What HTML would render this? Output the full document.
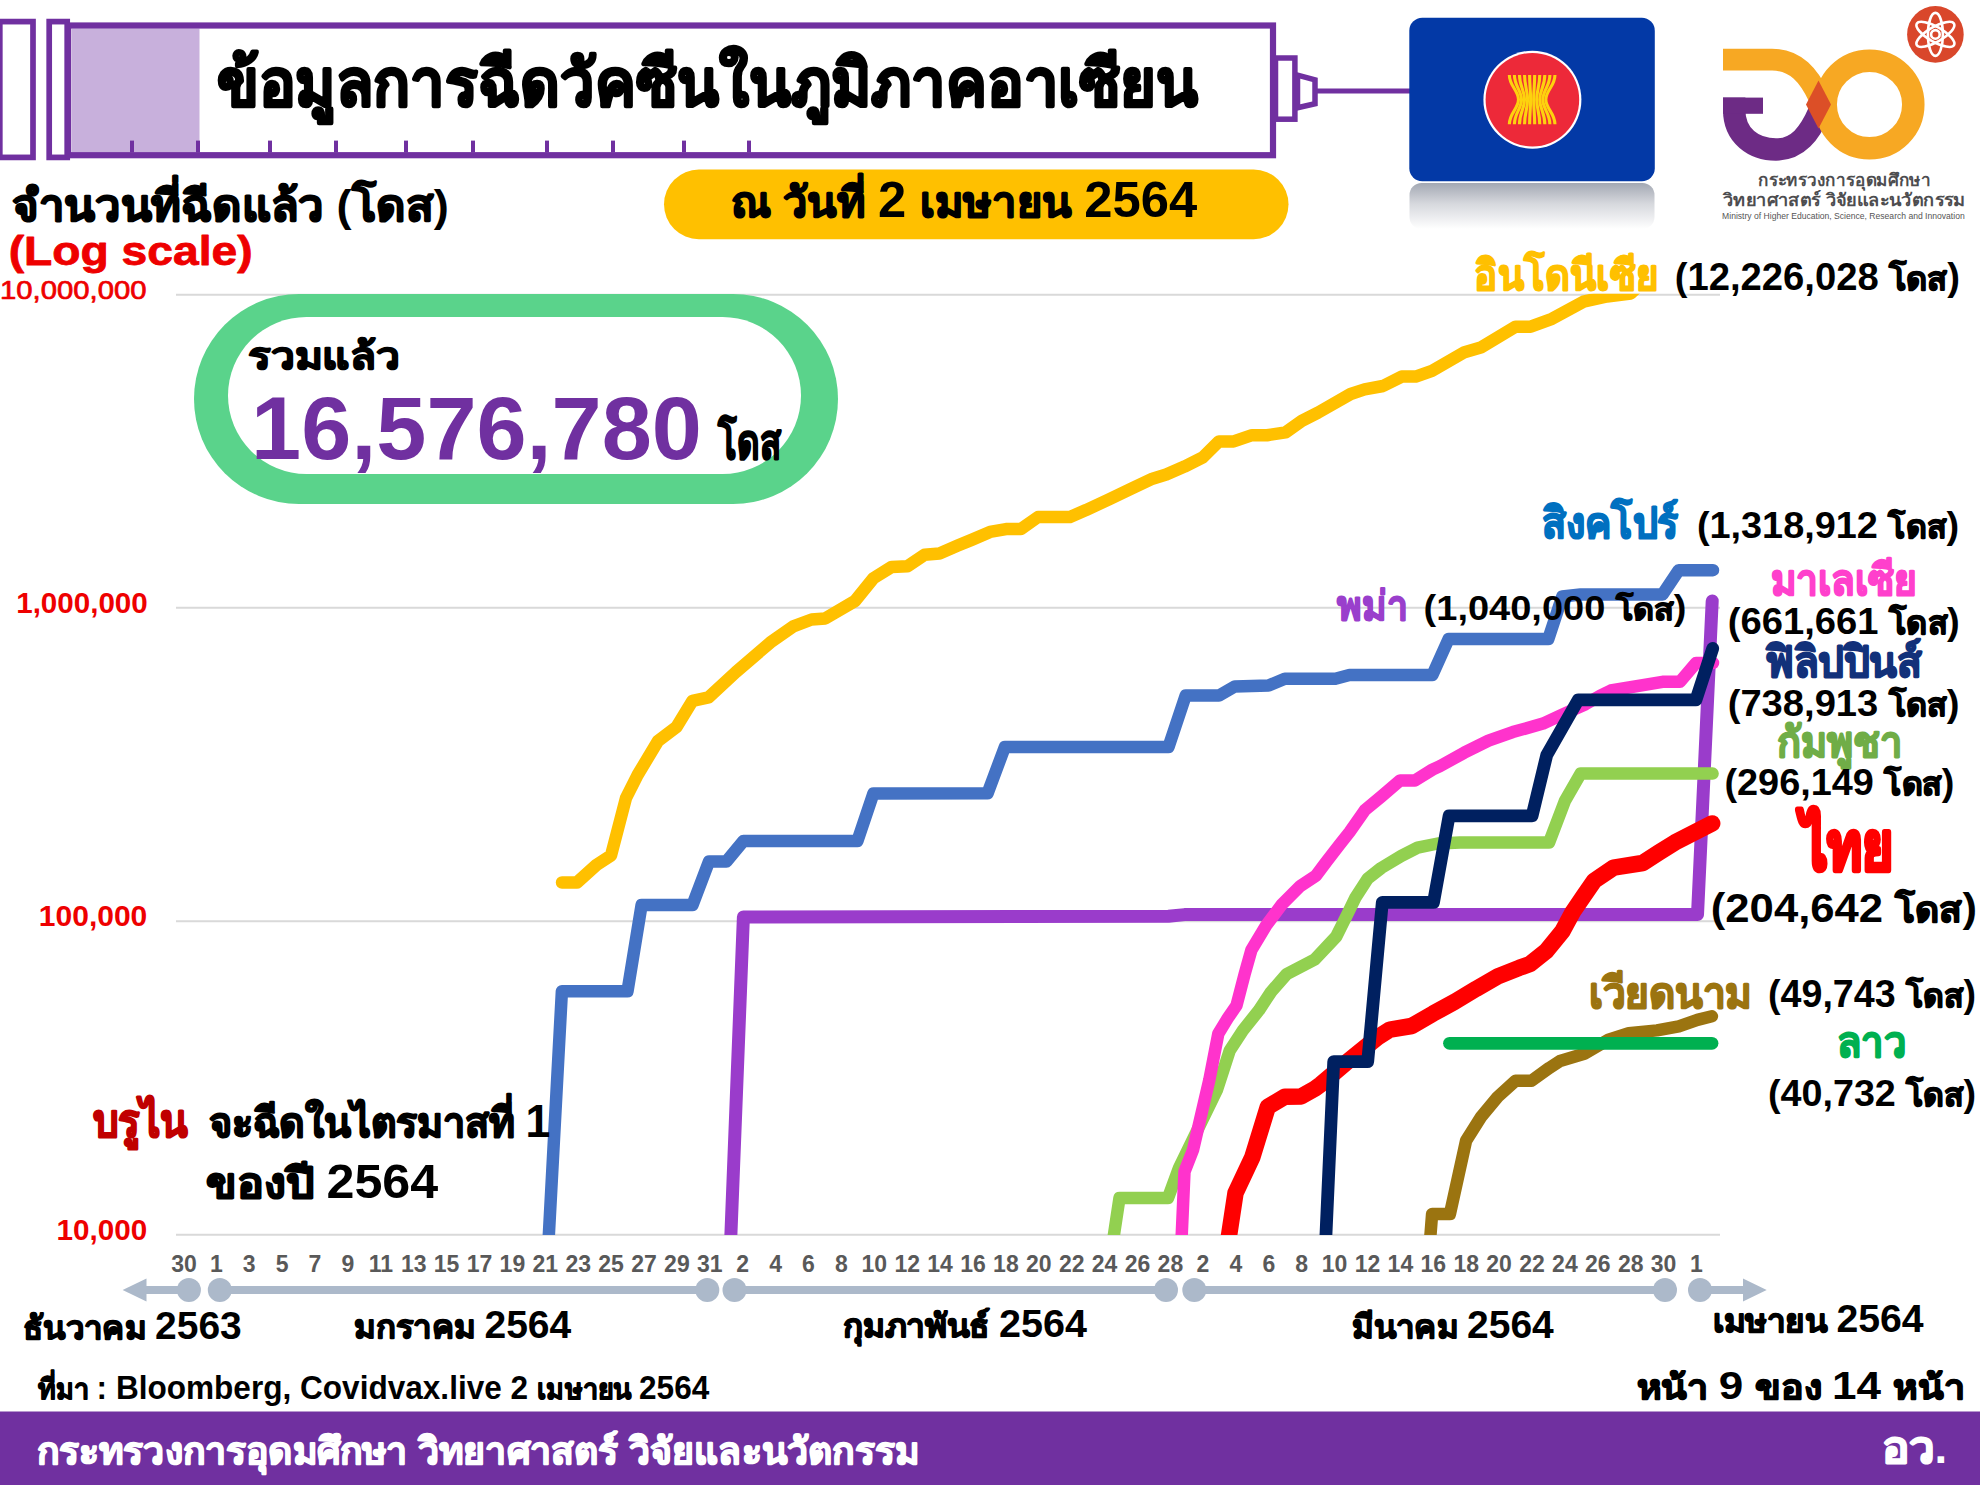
<!DOCTYPE html>
<html><head><meta charset='utf-8'><title>ASEAN vaccination</title>
<style>html,body{margin:0;padding:0;background:#fff;} svg{display:block;font-family:"Liberation Sans", sans-serif;}</style>
</head><body>
<svg width='1980' height='1485' viewBox='0 0 1980 1485'>
<rect width='1980' height='1485' fill='#fff'/>
<defs><clipPath id='plot'><rect x='170' y='293.8' width='1600' height='941.2'/></clipPath></defs>

<rect x='-0.2' y='21.6' width='33.2' height='135.8' fill='none' stroke='#7030a0' stroke-width='5.7'/>
<rect x='49.2' y='21.6' width='18' height='135.8' fill='none' stroke='#7030a0' stroke-width='5.7'/>
<rect x='72' y='28.5' width='127.5' height='124' fill='#c8b0dc'/>
<rect x='68.2' y='25.5' width='1204.8' height='129.7' fill='none' stroke='#7030a0' stroke-width='6.2'/>
<rect x='1275.5' y='58' width='19.4' height='61.2' fill='none' stroke='#7030a0' stroke-width='5.5'/>
<polygon points='1297.5,75.2 1315,79.8 1315,103.8 1297.5,107.8' fill='none' stroke='#7030a0' stroke-width='5.5'/>
<line x1='1317' y1='91' x2='1412' y2='91' stroke='#7030a0' stroke-width='5.2'/>
<line x1='132' y1='140.6' x2='132' y2='152.5' stroke='#7030a0' stroke-width='4'/><line x1='198' y1='140.6' x2='198' y2='152.5' stroke='#7030a0' stroke-width='4'/><line x1='270' y1='140.6' x2='270' y2='152.5' stroke='#7030a0' stroke-width='4'/><line x1='336' y1='140.6' x2='336' y2='152.5' stroke='#7030a0' stroke-width='4'/><line x1='406' y1='140.6' x2='406' y2='152.5' stroke='#7030a0' stroke-width='4'/><line x1='473' y1='140.6' x2='473' y2='152.5' stroke='#7030a0' stroke-width='4'/><line x1='547' y1='140.6' x2='547' y2='152.5' stroke='#7030a0' stroke-width='4'/><line x1='613' y1='140.6' x2='613' y2='152.5' stroke='#7030a0' stroke-width='4'/><line x1='684' y1='140.6' x2='684' y2='152.5' stroke='#7030a0' stroke-width='4'/><line x1='749' y1='140.6' x2='749' y2='152.5' stroke='#7030a0' stroke-width='4'/>
<rect x='664' y='169.5' width='624.5' height='69.7' rx='34.85' fill='#ffc000'/>

<defs>
<linearGradient id='refl' x1='0' y1='0' x2='0' y2='1'>
<stop offset='0' stop-color='#a3a8b3'/><stop offset='0.45' stop-color='#d6d8dd'/><stop offset='1' stop-color='#ffffff'/>
</linearGradient>
</defs>
<rect x='1409.5' y='183' width='245' height='46' rx='12' fill='url(#refl)'/>
<rect x='1409.3' y='17.7' width='245.5' height='163.5' rx='13' fill='#0339a6'/>
<circle cx='1532.4' cy='99.7' r='49' fill='#ffffff'/>
<circle cx='1532.4' cy='99.7' r='46.8' fill='#ed2939'/>
<path d='M1509.35,74.9 C1509.35,85.9 1518.47,90.6 1518.47,99.6 C1518.47,108.6 1509.35,113.2 1509.35,124.2' fill='none' stroke='#fdd20e' stroke-width='3.1'/><path d='M1514.42,74.9 C1514.42,85.9 1521.51,90.6 1521.51,99.6 C1521.51,108.6 1514.42,113.2 1514.42,124.2' fill='none' stroke='#fdd20e' stroke-width='3.1'/><path d='M1519.48,74.9 C1519.48,85.9 1524.55,90.6 1524.55,99.6 C1524.55,108.6 1519.48,113.2 1519.48,124.2' fill='none' stroke='#fdd20e' stroke-width='3.1'/><path d='M1524.55,74.9 C1524.55,85.9 1527.59,90.6 1527.59,99.6 C1527.59,108.6 1524.55,113.2 1524.55,124.2' fill='none' stroke='#fdd20e' stroke-width='3.1'/><path d='M1529.62,74.9 C1529.62,85.9 1530.63,90.6 1530.63,99.6 C1530.63,108.6 1529.62,113.2 1529.62,124.2' fill='none' stroke='#fdd20e' stroke-width='3.1'/><path d='M1534.68,74.9 C1534.68,85.9 1533.67,90.6 1533.67,99.6 C1533.67,108.6 1534.68,113.2 1534.68,124.2' fill='none' stroke='#fdd20e' stroke-width='3.1'/><path d='M1539.75,74.9 C1539.75,85.9 1536.71,90.6 1536.71,99.6 C1536.71,108.6 1539.75,113.2 1539.75,124.2' fill='none' stroke='#fdd20e' stroke-width='3.1'/><path d='M1544.82,74.9 C1544.82,85.9 1539.75,90.6 1539.75,99.6 C1539.75,108.6 1544.82,113.2 1544.82,124.2' fill='none' stroke='#fdd20e' stroke-width='3.1'/><path d='M1549.88,74.9 C1549.88,85.9 1542.79,90.6 1542.79,99.6 C1542.79,108.6 1549.88,113.2 1549.88,124.2' fill='none' stroke='#fdd20e' stroke-width='3.1'/><path d='M1554.95,74.9 C1554.95,85.9 1545.83,90.6 1545.83,99.6 C1545.83,108.6 1554.95,113.2 1554.95,124.2' fill='none' stroke='#fdd20e' stroke-width='3.1'/>


<circle cx='1935.4' cy='34.4' r='28.3' fill='#d9472b'/>
<g fill='none' stroke='#fff' stroke-width='2.6'>
<ellipse cx='1935.4' cy='34.4' rx='7.5' ry='21.5' />
<ellipse cx='1935.4' cy='34.4' rx='7.5' ry='21.5' transform='rotate(60 1935.4 34.4)'/>
<ellipse cx='1935.4' cy='34.4' rx='7.5' ry='21.5' transform='rotate(-60 1935.4 34.4)'/>
<circle cx='1935.4' cy='34.4' r='4.3'/>
</g>
<path d='M1723,59.6 H1772 C1796,59.6 1809,76 1819,97' fill='none' stroke='#f7a823' stroke-width='21.8'/>
<path d='M1734.2,97.6 V110 C1734.2,136 1754,149.5 1776,149.5 C1798,149.5 1810,133 1819,112' fill='none' stroke='#6d2b85' stroke-width='22.4'/>
<rect x='1723' y='97.6' width='40' height='16.2' fill='#6d2b85'/>
<circle cx='1869.5' cy='104.5' r='43.8' fill='none' stroke='#f7a823' stroke-width='22.5'/>
<path d='M1806,104.5 L1818.5,80.5 L1831,104.5 L1818.5,128.5 Z' fill='#dc4f27'/>

<line x1='176' y1='294.8' x2='1720' y2='294.8' stroke='#d9d9d9' stroke-width='2'/>
<line x1='176' y1='607.8' x2='1720' y2='607.8' stroke='#d9d9d9' stroke-width='2'/>
<line x1='176' y1='921.3' x2='1720' y2='921.3' stroke='#d9d9d9' stroke-width='2'/>
<line x1='176' y1='1234.8' x2='1720' y2='1234.8' stroke='#d9d9d9' stroke-width='2'/>

<rect x='194' y='294' width='644' height='210' rx='105' fill='#5ad38b'/>
<rect x='228' y='317' width='573' height='157' rx='78.5' fill='#ffffff'/>

<g clip-path='url(#plot)'>
<polyline points='562,882.5 577,882.5 596.4,865 611,855.5 626,798 637.6,775 658,741 676.5,727 692.5,700.8 708.6,697.4 736,672 770.4,642.4 793.3,626.4 811.6,619.5 825.3,618.4 855,601 873.4,578.3 891.7,566.9 907.5,566.2 924.6,554.8 939.5,553.6 957.8,545.6 971.6,539.9 990,531.9 1006,529.1 1020.8,529.1 1038,517 1070,517 1086,510.1 1109,499.3 1131.9,488.4 1152.5,478.7 1166.2,474.6 1184.5,466.6 1202.8,457.4 1218.9,441.4 1233.7,441.4 1252,435.2 1267,435.2 1285.6,432.4 1301.8,420.8 1318,412.6 1350.6,394 1364.6,389.4 1383,386 1401.7,376.6 1415.7,376.6 1432,370.8 1464.5,352.2 1480.7,347.6 1515.6,326.7 1530.7,326.7 1552,318.8 1583.4,301.7 1607,296.5 1630.7,293.5 1645,280' fill='none' stroke='#ffc000' stroke-width='12.5' stroke-linejoin='round' stroke-linecap='round'/>
<polyline points='548.3,1245 561.9,991.2 627.5,991.2 641.6,905 692.5,905 709,861.5 726.4,861.5 743.4,841 857.4,841 873.4,793.5 987.6,793.3 1004.8,747.1 1168.5,747.1 1185.7,695.6 1218.9,695.6 1234.9,686.4 1268.6,685.5 1284.8,678.7 1335.4,678.7 1349.4,675 1432.4,675 1448.6,639 1548.3,639 1562.3,596.5 1580.6,594.5 1662.5,594.5 1678.7,570.2 1713,570.2' fill='none' stroke='#4472c4' stroke-width='12.5' stroke-linejoin='round' stroke-linecap='round'/>
<polyline points='730.5,1245 743.4,917 1168.5,916.3 1184.5,914.6 1697.5,914.6 1712.2,601' fill='none' stroke='#9a3ccb' stroke-width='13' stroke-linejoin='round' stroke-linecap='round'/>
<polyline points='1112.4,1245 1119.5,1198 1168,1198 1179,1168 1216.9,1090 1224.3,1067.4 1229.7,1050.6 1242.9,1030.4 1259,1010.2 1271,992 1286.4,974.3 1314.7,959.5 1336.2,936.6 1347,915 1355.6,897.3 1367.7,878.7 1381.2,868 1401.4,855.8 1417.6,847.7 1437.8,843.5 1460,842.4 1549.1,842.4 1564.8,801.2 1580.6,773.6 1712.6,773.6' fill='none' stroke='#92d050' stroke-width='12.5' stroke-linejoin='round' stroke-linecap='round'/>
<polyline points='1181.3,1245 1184.5,1171.6 1193,1150 1209.3,1080 1218.3,1033.8 1227.7,1018.3 1236.5,1005.5 1244.6,974.3 1251.4,950 1266.1,925.6 1282.2,904.1 1300.4,885.9 1315.9,875.8 1326,862.3 1339.5,844.8 1349.6,832 1365,810 1381.2,796.6 1400,780.5 1414.9,780.5 1432.4,769.6 1440,766.1 1464.2,752.7 1488.5,740.6 1512.7,732.1 1543,723.6 1561.2,715.2 1585.5,704.2 1600,695.8 1610.8,690.5 1662.5,681.8 1680,681.8 1696,663 1713,663' fill='none' stroke='#ff33cc' stroke-width='12.5' stroke-linejoin='round' stroke-linecap='round'/>
<polyline points='1429.7,1245 1432.1,1214.1 1449.9,1214.1 1466.1,1140.6 1481.4,1116.4 1497.6,1097 1515.4,1080.8 1531.5,1080.8 1549.3,1067.9 1560,1061.1 1584.2,1053.8 1608.5,1039.7 1628.7,1033.2 1657,1030.4 1678.8,1026.4 1697.4,1019.9 1711.9,1016.3' fill='none' stroke='#9b7410' stroke-width='12.5' stroke-linejoin='round' stroke-linecap='round'/>
<polyline points='1449.5,1043.3 1712,1043.3' fill='none' stroke='#00b050' stroke-width='12.8' stroke-linejoin='round' stroke-linecap='round'/>
<polyline points='1227.6,1245 1235.5,1193.1 1252.2,1157.6 1267.8,1106.9 1285,1096.7 1301.2,1096.4 1315,1088.6 1320.8,1084.3 1345,1063.7 1377.4,1037.5 1390,1029.6 1411.6,1026 1433.1,1013.6 1454.7,1001.8 1476.2,988.8 1497.8,976.4 1519.3,967.8 1530,964 1546.3,951 1562.4,931.2 1573.2,911.3 1584,895.5 1594.2,880.8 1613.6,867.6 1642.7,863 1658.9,852.5 1675,842.4 1712.2,823.4' fill='none' stroke='#ff0000' stroke-width='16.5' stroke-linejoin='round' stroke-linecap='round'/>
<polyline points='1325.5,1245 1333.7,1061.7 1367.7,1061.7 1382.3,902.4 1433.5,902.4 1449.1,815.8 1532.1,815.8 1546.7,755.2 1578.2,699.8 1696,699.8 1712.7,648.4' fill='none' stroke='#002060' stroke-width='12.8' stroke-linejoin='round' stroke-linecap='round'/>
</g>
<line x1='146' y1='1290' x2='189' y2='1290' stroke='#acb9ca' stroke-width='8'/>
<line x1='219.8' y1='1290' x2='707.3' y2='1290' stroke='#acb9ca' stroke-width='8'/>
<line x1='734.5' y1='1290' x2='1166' y2='1290' stroke='#acb9ca' stroke-width='8'/>
<line x1='1194.3' y1='1290' x2='1665' y2='1290' stroke='#acb9ca' stroke-width='8'/>
<line x1='1700' y1='1290' x2='1744' y2='1290' stroke='#acb9ca' stroke-width='8'/>
<circle cx='188.9' cy='1290' r='12' fill='#acb9ca'/>
<circle cx='219.8' cy='1290' r='12' fill='#acb9ca'/>
<circle cx='707.3' cy='1290' r='12' fill='#acb9ca'/>
<circle cx='734.5' cy='1290' r='12' fill='#acb9ca'/>
<circle cx='1166' cy='1290' r='12' fill='#acb9ca'/>
<circle cx='1194.3' cy='1290' r='12' fill='#acb9ca'/>
<circle cx='1665' cy='1290' r='12' fill='#acb9ca'/>
<circle cx='1700' cy='1290' r='12' fill='#acb9ca'/>
<polygon points='122.6,1290 146.5,1278.4 146.5,1301.6' fill='#acb9ca'/>
<polygon points='1766.7,1290 1743,1278.4 1743,1301.6' fill='#acb9ca'/>
<text x='184.0' y='1272.3' text-anchor='middle' font-family='Liberation Sans, sans-serif' font-size='23' font-weight='bold' fill='#595959'>30</text>
<text x='216.3' y='1272.3' text-anchor='middle' font-family='Liberation Sans, sans-serif' font-size='23' font-weight='bold' fill='#595959'>1</text>
<text x='249.2' y='1272.3' text-anchor='middle' font-family='Liberation Sans, sans-serif' font-size='23' font-weight='bold' fill='#595959'>3</text>
<text x='282.1' y='1272.3' text-anchor='middle' font-family='Liberation Sans, sans-serif' font-size='23' font-weight='bold' fill='#595959'>5</text>
<text x='315.0' y='1272.3' text-anchor='middle' font-family='Liberation Sans, sans-serif' font-size='23' font-weight='bold' fill='#595959'>7</text>
<text x='347.9' y='1272.3' text-anchor='middle' font-family='Liberation Sans, sans-serif' font-size='23' font-weight='bold' fill='#595959'>9</text>
<text x='380.8' y='1272.3' text-anchor='middle' font-family='Liberation Sans, sans-serif' font-size='23' font-weight='bold' fill='#595959'>11</text>
<text x='413.7' y='1272.3' text-anchor='middle' font-family='Liberation Sans, sans-serif' font-size='23' font-weight='bold' fill='#595959'>13</text>
<text x='446.6' y='1272.3' text-anchor='middle' font-family='Liberation Sans, sans-serif' font-size='23' font-weight='bold' fill='#595959'>15</text>
<text x='479.5' y='1272.3' text-anchor='middle' font-family='Liberation Sans, sans-serif' font-size='23' font-weight='bold' fill='#595959'>17</text>
<text x='512.4' y='1272.3' text-anchor='middle' font-family='Liberation Sans, sans-serif' font-size='23' font-weight='bold' fill='#595959'>19</text>
<text x='545.3' y='1272.3' text-anchor='middle' font-family='Liberation Sans, sans-serif' font-size='23' font-weight='bold' fill='#595959'>21</text>
<text x='578.2' y='1272.3' text-anchor='middle' font-family='Liberation Sans, sans-serif' font-size='23' font-weight='bold' fill='#595959'>23</text>
<text x='611.1' y='1272.3' text-anchor='middle' font-family='Liberation Sans, sans-serif' font-size='23' font-weight='bold' fill='#595959'>25</text>
<text x='644.0' y='1272.3' text-anchor='middle' font-family='Liberation Sans, sans-serif' font-size='23' font-weight='bold' fill='#595959'>27</text>
<text x='676.9' y='1272.3' text-anchor='middle' font-family='Liberation Sans, sans-serif' font-size='23' font-weight='bold' fill='#595959'>29</text>
<text x='709.8' y='1272.3' text-anchor='middle' font-family='Liberation Sans, sans-serif' font-size='23' font-weight='bold' fill='#595959'>31</text>
<text x='742.7' y='1272.3' text-anchor='middle' font-family='Liberation Sans, sans-serif' font-size='23' font-weight='bold' fill='#595959'>2</text>
<text x='775.6' y='1272.3' text-anchor='middle' font-family='Liberation Sans, sans-serif' font-size='23' font-weight='bold' fill='#595959'>4</text>
<text x='808.5' y='1272.3' text-anchor='middle' font-family='Liberation Sans, sans-serif' font-size='23' font-weight='bold' fill='#595959'>6</text>
<text x='841.4' y='1272.3' text-anchor='middle' font-family='Liberation Sans, sans-serif' font-size='23' font-weight='bold' fill='#595959'>8</text>
<text x='874.3' y='1272.3' text-anchor='middle' font-family='Liberation Sans, sans-serif' font-size='23' font-weight='bold' fill='#595959'>10</text>
<text x='907.2' y='1272.3' text-anchor='middle' font-family='Liberation Sans, sans-serif' font-size='23' font-weight='bold' fill='#595959'>12</text>
<text x='940.1' y='1272.3' text-anchor='middle' font-family='Liberation Sans, sans-serif' font-size='23' font-weight='bold' fill='#595959'>14</text>
<text x='973.0' y='1272.3' text-anchor='middle' font-family='Liberation Sans, sans-serif' font-size='23' font-weight='bold' fill='#595959'>16</text>
<text x='1005.9' y='1272.3' text-anchor='middle' font-family='Liberation Sans, sans-serif' font-size='23' font-weight='bold' fill='#595959'>18</text>
<text x='1038.8' y='1272.3' text-anchor='middle' font-family='Liberation Sans, sans-serif' font-size='23' font-weight='bold' fill='#595959'>20</text>
<text x='1071.7' y='1272.3' text-anchor='middle' font-family='Liberation Sans, sans-serif' font-size='23' font-weight='bold' fill='#595959'>22</text>
<text x='1104.6' y='1272.3' text-anchor='middle' font-family='Liberation Sans, sans-serif' font-size='23' font-weight='bold' fill='#595959'>24</text>
<text x='1137.5' y='1272.3' text-anchor='middle' font-family='Liberation Sans, sans-serif' font-size='23' font-weight='bold' fill='#595959'>26</text>
<text x='1170.4' y='1272.3' text-anchor='middle' font-family='Liberation Sans, sans-serif' font-size='23' font-weight='bold' fill='#595959'>28</text>
<text x='1203.0' y='1272.3' text-anchor='middle' font-family='Liberation Sans, sans-serif' font-size='23' font-weight='bold' fill='#595959'>2</text>
<text x='1235.9' y='1272.3' text-anchor='middle' font-family='Liberation Sans, sans-serif' font-size='23' font-weight='bold' fill='#595959'>4</text>
<text x='1268.8' y='1272.3' text-anchor='middle' font-family='Liberation Sans, sans-serif' font-size='23' font-weight='bold' fill='#595959'>6</text>
<text x='1301.7' y='1272.3' text-anchor='middle' font-family='Liberation Sans, sans-serif' font-size='23' font-weight='bold' fill='#595959'>8</text>
<text x='1334.6' y='1272.3' text-anchor='middle' font-family='Liberation Sans, sans-serif' font-size='23' font-weight='bold' fill='#595959'>10</text>
<text x='1367.5' y='1272.3' text-anchor='middle' font-family='Liberation Sans, sans-serif' font-size='23' font-weight='bold' fill='#595959'>12</text>
<text x='1400.4' y='1272.3' text-anchor='middle' font-family='Liberation Sans, sans-serif' font-size='23' font-weight='bold' fill='#595959'>14</text>
<text x='1433.3' y='1272.3' text-anchor='middle' font-family='Liberation Sans, sans-serif' font-size='23' font-weight='bold' fill='#595959'>16</text>
<text x='1466.2' y='1272.3' text-anchor='middle' font-family='Liberation Sans, sans-serif' font-size='23' font-weight='bold' fill='#595959'>18</text>
<text x='1499.1' y='1272.3' text-anchor='middle' font-family='Liberation Sans, sans-serif' font-size='23' font-weight='bold' fill='#595959'>20</text>
<text x='1532.0' y='1272.3' text-anchor='middle' font-family='Liberation Sans, sans-serif' font-size='23' font-weight='bold' fill='#595959'>22</text>
<text x='1564.9' y='1272.3' text-anchor='middle' font-family='Liberation Sans, sans-serif' font-size='23' font-weight='bold' fill='#595959'>24</text>
<text x='1597.8' y='1272.3' text-anchor='middle' font-family='Liberation Sans, sans-serif' font-size='23' font-weight='bold' fill='#595959'>26</text>
<text x='1630.7' y='1272.3' text-anchor='middle' font-family='Liberation Sans, sans-serif' font-size='23' font-weight='bold' fill='#595959'>28</text>
<text x='1663.6' y='1272.3' text-anchor='middle' font-family='Liberation Sans, sans-serif' font-size='23' font-weight='bold' fill='#595959'>30</text>
<text x='1696.3' y='1272.3' text-anchor='middle' font-family='Liberation Sans, sans-serif' font-size='23' font-weight='bold' fill='#595959'>1</text>
<rect x='0' y='1411.5' width='1980' height='74' fill='#7030a0'/>
<text x='216.8' y='106' font-family='Liberation Sans, sans-serif' font-size='65.5' font-weight='bold' fill='#000' textLength='980.8' lengthAdjust='spacingAndGlyphs' xml:space='preserve'><tspan stroke='#000' stroke-width='2.62' stroke-linejoin='round'>ข้อมูลการฉีดวัคซีนในภูมิภาคอาเซียน</tspan></text>
<text x='730.8' y='216.6' font-family='Liberation Sans, sans-serif' font-size='49.4' font-weight='bold' fill='#000' textLength='466.3' lengthAdjust='spacingAndGlyphs' xml:space='preserve'><tspan font-size='42.0' stroke='#000' stroke-width='1.68' stroke-linejoin='round'>ณ วันที่ </tspan>2 <tspan font-size='42.0' stroke='#000' stroke-width='1.68' stroke-linejoin='round'>เมษายน </tspan>2564</text>
<text x='11.8' y='221' font-family='Liberation Sans, sans-serif' font-size='44' font-weight='bold' fill='#000' textLength='437.1' lengthAdjust='spacingAndGlyphs' xml:space='preserve'><tspan stroke='#000' stroke-width='1.76' stroke-linejoin='round'>จำนวนที่ฉีดแล้ว </tspan>(<tspan stroke='#000' stroke-width='1.76' stroke-linejoin='round'>โดส</tspan>)</text>
<text x='8.7' y='265.3' font-family='Liberation Sans, sans-serif' font-size='41' font-weight='bold' fill='#ee0000' textLength='243.9' lengthAdjust='spacingAndGlyphs' xml:space='preserve'><tspan stroke='#ee0000' stroke-width='0.80' stroke-linejoin='round'>(Log scale)</tspan></text>
<text x='0.0' y='298.5' font-family='Liberation Sans, sans-serif' font-size='25' font-weight='normal' fill='#ee0000' textLength='146.5' lengthAdjust='spacingAndGlyphs' xml:space='preserve'><tspan stroke='#ee0000' stroke-width='0.70' stroke-linejoin='round'>10,000,000</tspan></text>
<text x='16.2' y='613.3' font-family='Liberation Sans, sans-serif' font-size='29.5' font-weight='bold' fill='#ee0000' textLength='131.6' lengthAdjust='spacingAndGlyphs' xml:space='preserve'>1,000,000</text>
<text x='38.8' y='926.4' font-family='Liberation Sans, sans-serif' font-size='29' font-weight='bold' fill='#ee0000' textLength='108.5' lengthAdjust='spacingAndGlyphs' xml:space='preserve'>100,000</text>
<text x='56.6' y='1239.8' font-family='Liberation Sans, sans-serif' font-size='29' font-weight='bold' fill='#ee0000' textLength='90.7' lengthAdjust='spacingAndGlyphs' xml:space='preserve'>10,000</text>
<text x='247.6' y='368.6' font-family='Liberation Sans, sans-serif' font-size='37' font-weight='bold' fill='#000' textLength='152.7' lengthAdjust='spacingAndGlyphs' xml:space='preserve'><tspan stroke='#000' stroke-width='1.48' stroke-linejoin='round'>รวมแล้ว</tspan></text>
<text x='251.1' y='459.3' font-family='Liberation Sans, sans-serif' font-size='89' font-weight='bold' fill='#7030a0' textLength='450.8' lengthAdjust='spacingAndGlyphs' xml:space='preserve'>16,576,780</text>
<text x='718.1' y='458.6' font-family='Liberation Sans, sans-serif' font-size='47.5' font-weight='bold' fill='#000' textLength='62.7' lengthAdjust='spacingAndGlyphs' xml:space='preserve'><tspan stroke='#000' stroke-width='1.90' stroke-linejoin='round'>โดส</tspan></text>
<text x='1474.3' y='290' font-family='Liberation Sans, sans-serif' font-size='42.5' font-weight='bold' fill='#ffc000' textLength='183.9' lengthAdjust='spacingAndGlyphs' xml:space='preserve'><tspan stroke='#ffc000' stroke-width='1.70' stroke-linejoin='round'>อินโดนีเซีย</tspan></text>
<text x='1674.7' y='290' font-family='Liberation Sans, sans-serif' font-size='38.3' font-weight='bold' fill='#000' textLength='285.3' lengthAdjust='spacingAndGlyphs' xml:space='preserve'>(12,226,028 <tspan font-size='32.6' stroke='#000' stroke-width='1.30' stroke-linejoin='round'>โดส</tspan>)</text>
<text x='1541.8' y='538' font-family='Liberation Sans, sans-serif' font-size='43' font-weight='bold' fill='#0070c0' textLength='136.6' lengthAdjust='spacingAndGlyphs' xml:space='preserve'><tspan stroke='#0070c0' stroke-width='1.72' stroke-linejoin='round'>สิงคโปร์</tspan></text>
<text x='1696.9' y='538' font-family='Liberation Sans, sans-serif' font-size='36.5' font-weight='bold' fill='#000' textLength='262.2' lengthAdjust='spacingAndGlyphs' xml:space='preserve'>(1,318,912 <tspan font-size='31.0' stroke='#000' stroke-width='1.24' stroke-linejoin='round'>โดส</tspan>)</text>
<text x='1337.1' y='620.2' font-family='Liberation Sans, sans-serif' font-size='40.5' font-weight='bold' fill='#9a3fcc' textLength='70.7' lengthAdjust='spacingAndGlyphs' xml:space='preserve'><tspan stroke='#9a3fcc' stroke-width='1.62' stroke-linejoin='round'>พม่า</tspan></text>
<text x='1423.6' y='620.2' font-family='Liberation Sans, sans-serif' font-size='35.5' font-weight='bold' fill='#000' textLength='262.7' lengthAdjust='spacingAndGlyphs' xml:space='preserve'>(1,040,000 <tspan font-size='30.2' stroke='#000' stroke-width='1.21' stroke-linejoin='round'>โดส</tspan>)</text>
<text x='1771.0' y='595' font-family='Liberation Sans, sans-serif' font-size='43' font-weight='bold' fill='#ff40cc' textLength='145.8' lengthAdjust='spacingAndGlyphs' xml:space='preserve'><tspan stroke='#ff40cc' stroke-width='1.72' stroke-linejoin='round'>มาเลเซีย</tspan></text>
<text x='1727.8' y='634.4' font-family='Liberation Sans, sans-serif' font-size='37.5' font-weight='bold' fill='#000' textLength='231.9' lengthAdjust='spacingAndGlyphs' xml:space='preserve'>(661,661 <tspan font-size='31.9' stroke='#000' stroke-width='1.28' stroke-linejoin='round'>โดส</tspan>)</text>
<text x='1765.3' y='676.5' font-family='Liberation Sans, sans-serif' font-size='43' font-weight='bold' fill='#12317a' textLength='156.0' lengthAdjust='spacingAndGlyphs' xml:space='preserve'><tspan stroke='#12317a' stroke-width='1.72' stroke-linejoin='round'>ฟิลิปปินส์</tspan></text>
<text x='1727.7' y='715.9' font-family='Liberation Sans, sans-serif' font-size='37' font-weight='bold' fill='#000' textLength='231.7' lengthAdjust='spacingAndGlyphs' xml:space='preserve'>(738,913 <tspan font-size='31.4' stroke='#000' stroke-width='1.26' stroke-linejoin='round'>โดส</tspan>)</text>
<text x='1777.3' y='757.4' font-family='Liberation Sans, sans-serif' font-size='43' font-weight='bold' fill='#70ad47' textLength='124.4' lengthAdjust='spacingAndGlyphs' xml:space='preserve'><tspan stroke='#70ad47' stroke-width='1.72' stroke-linejoin='round'>กัมพูชา</tspan></text>
<text x='1724.4' y='795.1' font-family='Liberation Sans, sans-serif' font-size='37' font-weight='bold' fill='#000' textLength='230.0' lengthAdjust='spacingAndGlyphs' xml:space='preserve'>(296,149 <tspan font-size='31.4' stroke='#000' stroke-width='1.26' stroke-linejoin='round'>โดส</tspan>)</text>
<text x='1801.0' y='870' font-family='Liberation Sans, sans-serif' font-size='68.5' font-weight='bold' fill='#ff0000' textLength='92.3' lengthAdjust='spacingAndGlyphs' xml:space='preserve'><tspan stroke='#ff0000' stroke-width='4.50' stroke-linejoin='round'>ไทย</tspan></text>
<text x='1710.8' y='921.8' font-family='Liberation Sans, sans-serif' font-size='41.5' font-weight='bold' fill='#000' textLength='266.3' lengthAdjust='spacingAndGlyphs' xml:space='preserve'>(204,642 <tspan font-size='35.3' stroke='#000' stroke-width='1.41' stroke-linejoin='round'>โดส</tspan>)</text>
<text x='1589.2' y='1007.5' font-family='Liberation Sans, sans-serif' font-size='43.5' font-weight='bold' fill='#9b7410' textLength='162.9' lengthAdjust='spacingAndGlyphs' xml:space='preserve'><tspan stroke='#9b7410' stroke-width='1.74' stroke-linejoin='round'>เวียดนาม</tspan></text>
<text x='1768.0' y='1006.9' font-family='Liberation Sans, sans-serif' font-size='38' font-weight='bold' fill='#000' textLength='208.1' lengthAdjust='spacingAndGlyphs' xml:space='preserve'>(49,743 <tspan font-size='32.3' stroke='#000' stroke-width='1.29' stroke-linejoin='round'>โดส</tspan>)</text>
<text x='1836.7' y='1057.4' font-family='Liberation Sans, sans-serif' font-size='42.5' font-weight='bold' fill='#00b050' textLength='69.3' lengthAdjust='spacingAndGlyphs' xml:space='preserve'><tspan stroke='#00b050' stroke-width='1.70' stroke-linejoin='round'>ลาว</tspan></text>
<text x='1768.0' y='1105.5' font-family='Liberation Sans, sans-serif' font-size='37.5' font-weight='bold' fill='#000' textLength='208.1' lengthAdjust='spacingAndGlyphs' xml:space='preserve'>(40,732 <tspan font-size='31.9' stroke='#000' stroke-width='1.28' stroke-linejoin='round'>โดส</tspan>)</text>
<text x='92.6' y='1136.8' font-family='Liberation Sans, sans-serif' font-size='45.5' font-weight='bold' fill='#c00000' textLength='95.1' lengthAdjust='spacingAndGlyphs' xml:space='preserve'><tspan stroke='#c00000' stroke-width='1.82' stroke-linejoin='round'>บรูไน</tspan></text>
<text x='208.8' y='1136.8' font-family='Liberation Sans, sans-serif' font-size='47' font-weight='bold' fill='#000' textLength='341.5' lengthAdjust='spacingAndGlyphs' xml:space='preserve'><tspan font-size='41.4' stroke='#000' stroke-width='1.65' stroke-linejoin='round'>จะฉีดในไตรมาสที่ </tspan>1</text>
<text x='206.3' y='1198.2' font-family='Liberation Sans, sans-serif' font-size='48' font-weight='bold' fill='#000' textLength='231.9' lengthAdjust='spacingAndGlyphs' xml:space='preserve'><tspan font-size='42.7' stroke='#000' stroke-width='1.71' stroke-linejoin='round'>ของปี </tspan>2564</text>
<text x='23.0' y='1338.6' font-family='Liberation Sans, sans-serif' font-size='38.4' font-weight='bold' fill='#000' textLength='218.8' lengthAdjust='spacingAndGlyphs' xml:space='preserve'><tspan font-size='32.4' stroke='#000' stroke-width='1.30' stroke-linejoin='round'>ธันวาคม </tspan>2563</text>
<text x='354.3' y='1338.3' font-family='Liberation Sans, sans-serif' font-size='38.4' font-weight='bold' fill='#000' textLength='217.0' lengthAdjust='spacingAndGlyphs' xml:space='preserve'><tspan font-size='32.4' stroke='#000' stroke-width='1.30' stroke-linejoin='round'>มกราคม </tspan>2564</text>
<text x='842.7' y='1336.8' font-family='Liberation Sans, sans-serif' font-size='38.4' font-weight='bold' fill='#000' textLength='244.3' lengthAdjust='spacingAndGlyphs' xml:space='preserve'><tspan font-size='32.4' stroke='#000' stroke-width='1.30' stroke-linejoin='round'>กุมภาพันธ์ </tspan>2564</text>
<text x='1352.2' y='1338' font-family='Liberation Sans, sans-serif' font-size='38.4' font-weight='bold' fill='#000' textLength='201.6' lengthAdjust='spacingAndGlyphs' xml:space='preserve'><tspan font-size='32.4' stroke='#000' stroke-width='1.30' stroke-linejoin='round'>มีนาคม </tspan>2564</text>
<text x='1712.8' y='1332.2' font-family='Liberation Sans, sans-serif' font-size='38.4' font-weight='bold' fill='#000' textLength='210.9' lengthAdjust='spacingAndGlyphs' xml:space='preserve'><tspan font-size='32.4' stroke='#000' stroke-width='1.30' stroke-linejoin='round'>เมษายน </tspan>2564</text>
<text x='37.5' y='1399' font-family='Liberation Sans, sans-serif' font-size='33' font-weight='bold' fill='#000' textLength='671.8' lengthAdjust='spacingAndGlyphs' xml:space='preserve'><tspan font-size='28.1' stroke='#000' stroke-width='1.12' stroke-linejoin='round'>ที่มา </tspan>: Bloomberg, Covidvax.live 2 <tspan font-size='28.1' stroke='#000' stroke-width='1.12' stroke-linejoin='round'>เมษายน </tspan>2564</text>
<text x='1636.5' y='1399.2' font-family='Liberation Sans, sans-serif' font-size='39.3' font-weight='bold' fill='#000' textLength='328.5' lengthAdjust='spacingAndGlyphs' xml:space='preserve'><tspan font-size='33.4' stroke='#000' stroke-width='1.34' stroke-linejoin='round'>หน้า </tspan>9 <tspan font-size='33.4' stroke='#000' stroke-width='1.34' stroke-linejoin='round'>ของ </tspan>14 <tspan font-size='33.4' stroke='#000' stroke-width='1.34' stroke-linejoin='round'>หน้า</tspan></text>
<text x='36.5' y='1464' font-family='Liberation Sans, sans-serif' font-size='37' font-weight='bold' fill='#fff' textLength='882.6' lengthAdjust='spacingAndGlyphs' xml:space='preserve'><tspan stroke='#fff' stroke-width='1.48' stroke-linejoin='round'>กระทรวงการอุดมศึกษา วิทยาศาสตร์ วิจัยและนวัตกรรม</tspan></text>
<text x='1881.7' y='1462.7' font-family='Liberation Sans, sans-serif' font-size='44' font-weight='bold' fill='#fff' textLength='65.5' lengthAdjust='spacingAndGlyphs' xml:space='preserve'><tspan stroke='#fff' stroke-width='1.76' stroke-linejoin='round'>อว</tspan>.</text>
<text x='1758.0' y='186' font-family='Liberation Sans, sans-serif' font-size='17.5' font-weight='bold' fill='#4d4d4f' textLength='173.0' lengthAdjust='spacingAndGlyphs' xml:space='preserve'>กระทรวงการอุดมศึกษา</text>
<text x='1723.0' y='206' font-family='Liberation Sans, sans-serif' font-size='17.5' font-weight='bold' fill='#4d4d4f' textLength='242.9' lengthAdjust='spacingAndGlyphs' xml:space='preserve'>วิทยาศาสตร์ วิจัยและนวัตกรรม</text>
<text x='1722.1' y='218.5' font-family='Liberation Sans, sans-serif' font-size='9.5' font-weight='normal' fill='#555' textLength='242.6' lengthAdjust='spacingAndGlyphs' xml:space='preserve'>Ministry of Higher Education, Science, Research and Innovation</text>
</svg>
</body></html>
